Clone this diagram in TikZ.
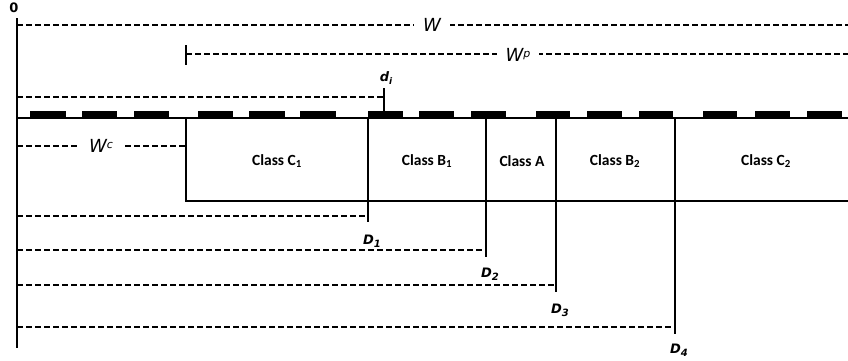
\documentclass[tikz,border=0pt]{standalone}
\usepackage{fontspec}
\setmainfont{Carlito}
\newfontfamily\labfont{DejaVu Sans}
\begin{document}
\begin{tikzpicture}[x=1pt,y=-1pt,
  dim/.style={line width=1.8pt,dash pattern=on 6pt off 3pt},
  solidline/.style={line width=2pt},
  cls/.style={font=\fontsize{15.5}{17}\selectfont\bfseries},
  lab/.style={font=\labfont\fontsize{18}{20}\selectfont\itshape,fill=white,inner xsep=9pt,inner ysep=2pt},
  dlab/.style={font=\labfont\fontsize{13}{15}\selectfont\bfseries\itshape,inner sep=1pt}]
\useasboundingbox (0,0) rectangle (848,360);
% axis
\coordinate (axT) at (17,18);
\coordinate (axB) at (17,348);
\draw[line width=2.2pt] (axT) -- (axB);
\node[font=\labfont\fontsize{13}{15}\selectfont\bfseries] (zero) at (14,8) {0};
% W
\coordinate (wL) at (17,25);
\coordinate (wR) at (848,25);
\draw[dim] (wL) -- (wR);
\node[lab] (w) at (432,25) {W};
% Wp
\coordinate (wpL) at (186,54);
\coordinate (wpR) at (848,54);
\draw[solidline] (186,45) -- (186,65);
\draw[dim] (wpL) -- (wpR);
\node[lab] (wp) at (518,55) {W\raisebox{0.45ex}{\fontsize{11}{12}\selectfont p}};
% di
\coordinate (diL) at (17,97);
\coordinate (diR) at (384,97);
\draw[dim] (diL) -- (diR);
\draw[solidline] (384,88) -- (384,118);
\node[dlab] (di) at (386,78) {d\raisebox{-0.5ex}{\fontsize{9}{10}\selectfont i}};
% track segments
\foreach \a/\b in {30/66,82/117,134/169,198/233,249/285,300/336,368/403,419/454,471/506,536/570,587/622,639/673,703/737,755/790,807/842}
  \fill (\a,111) rectangle (\b,118);
\draw[solidline] (17,118) -- (848,118);
% class box
\draw[solidline] (186,118) -- (186,201) -- (848,201);
\draw[solidline] (368,118) -- (368,222);
\draw[solidline] (486,118) -- (486,257);
\draw[solidline] (556,118) -- (556,292);
\draw[solidline] (675,118) -- (675,334);
\node[cls] (c1) at (277,161) {Class C$_{\mathbf 1}$};
\node[cls] (b1) at (427,161) {Class B$_{\mathbf 1}$};
\node[cls] (ca) at (522,161) {Class A};
\node[cls] (b2) at (615,161) {Class B$_{\mathbf 2}$};
\node[cls] (c2) at (766,161) {Class C$_{\mathbf 2}$};
% Wc
\coordinate (wcL) at (17,146);
\coordinate (wcR) at (186,146);
\draw[dim] (wcL) -- (wcR);
\node[lab] (wc) at (101,146) {W\raisebox{0.45ex}{\fontsize{11}{12}\selectfont c}};
% D lines
\draw[dim] (17,216) -- (368,216);
\draw[dim] (17,250) -- (486,250);
\draw[dim] (17,285) -- (556,285);
\draw[dim] (17,327) -- (675,327);
\node[dlab] (d1) at (372,241) {D\raisebox{-0.4ex}{\fontsize{10}{11}\selectfont 1}};
\node[dlab] (d2) at (490,274) {D\raisebox{-0.4ex}{\fontsize{10}{11}\selectfont 2}};
\node[dlab] (d3) at (560,310) {D\raisebox{-0.4ex}{\fontsize{10}{11}\selectfont 3}};
\node[dlab] (d4) at (679,350) {D\raisebox{-0.4ex}{\fontsize{10}{11}\selectfont 4}};
\end{tikzpicture}
\end{document}
